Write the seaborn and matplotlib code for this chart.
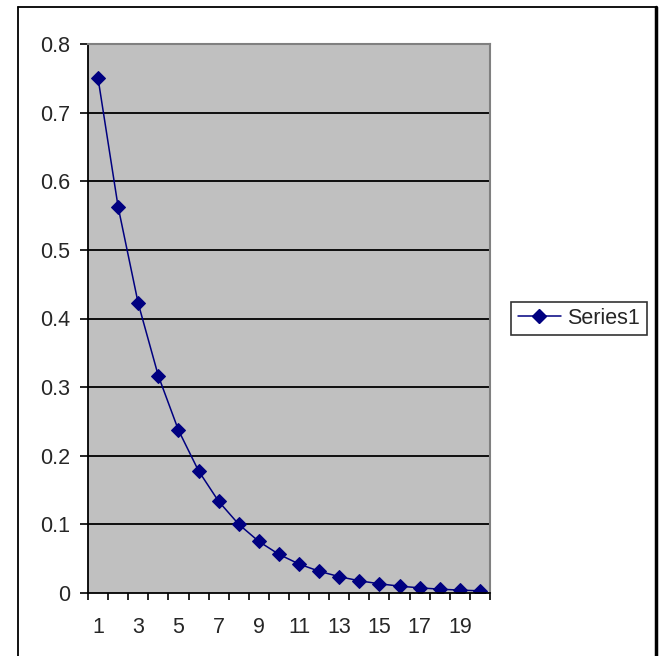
import matplotlib
matplotlib.use("Agg")
import matplotlib.pyplot as plt
import matplotlib.lines as mlines
import seaborn as sns
import pandas as pd

categories = list(range(1, 21))
series1 = [0.75, 0.5625, 0.4219, 0.3164, 0.2373, 0.178, 0.1335, 0.1001, 0.0751, 0.0563,
           0.0422, 0.0317, 0.0238, 0.0178, 0.0134, 0.0100, 0.0075, 0.0056, 0.0042, 0.0032]
xtick_labels = ["1", "3", "5", "7", "9", "11", "13", "15", "17", "19"]
ytick_labels = ["0", "0.1", "0.2", "0.3", "0.4", "0.5", "0.6", "0.7", "0.8"]

df = pd.DataFrame({"x": categories, "y": series1, "series": "Series1"})

sns.set_style("white")
plt.rcParams["font.family"] = ["Liberation Sans", "DejaVu Sans"]

W, H = 659, 656
FS = 15.5
fig = plt.figure(figsize=(W / 100, H / 100), dpi=100)
ax = fig.add_axes([88 / W, (H - 593) / H, (490 - 88) / W, (593 - 44) / H])
ax.set_facecolor("#c0c0c0")

sns.lineplot(data=df, x="x", y="y", ax=ax, color="#000080", marker="D",
             markersize=7.5, markeredgecolor="#000080", linewidth=1.1, legend=False)

ax.set_xlim(0.5, 20.5)
ax.set_ylim(0, 0.8)
yt = [i / 10 for i in range(9)]
ax.set_yticks(yt)
ax.set_yticklabels(ytick_labels)
ax.set_xticks([int(s) for s in xtick_labels])
ax.set_xticklabels(xtick_labels)
ax.set_xticks([i + 0.5 for i in range(21)], minor=True)
ax.tick_params(axis="x", which="major", length=0, pad=17, labelsize=FS)
ax.tick_params(axis="x", which="minor", length=5, width=1.2, color="black", direction="out")
ax.tick_params(axis="y", which="major", length=5.8, width=1.2, color="black", direction="out",
               labelsize=FS, pad=7)
ax.tick_params(left=True, bottom=True, which="both")
for v in yt[1:]:
    ax.axhline(v, color="black", linewidth=1.3, zorder=1)

ax.set_xlabel("")
ax.set_ylabel("")
for s in ["left", "bottom"]:
    ax.spines[s].set_color("black")
    ax.spines[s].set_linewidth(1.3)
for s in ["top", "right"]:
    ax.spines[s].set_color("#808080")
    ax.spines[s].set_linewidth(1.5)

handle = mlines.Line2D([], [], color="#000080", marker="D", markersize=7.5, linewidth=1.1)
leg = fig.legend([handle], ["Series1"], loc="center", bbox_to_anchor=(579 / W, 1 - 318.5 / H),
                 frameon=True, fancybox=False, fontsize=FS, handlelength=2.0,
                 borderpad=0.3, handletextpad=0.3, borderaxespad=0, edgecolor="black")
leg.get_frame().set_linewidth(1.2)

# outer chart border
fig.add_artist(mlines.Line2D([18 / W, 18 / W], [0, 1 - 7 / H], color="black", lw=1.3,
                             transform=fig.transFigure))
fig.add_artist(mlines.Line2D([18 / W, 656 / W], [1 - 7 / H, 1 - 7 / H], color="black", lw=1.3,
                             transform=fig.transFigure))
fig.add_artist(mlines.Line2D([655.5 / W, 655.5 / W], [0, 1 - 7 / H], color="black", lw=2.5,
                             transform=fig.transFigure))

fig.savefig("out.png", dpi=100)
